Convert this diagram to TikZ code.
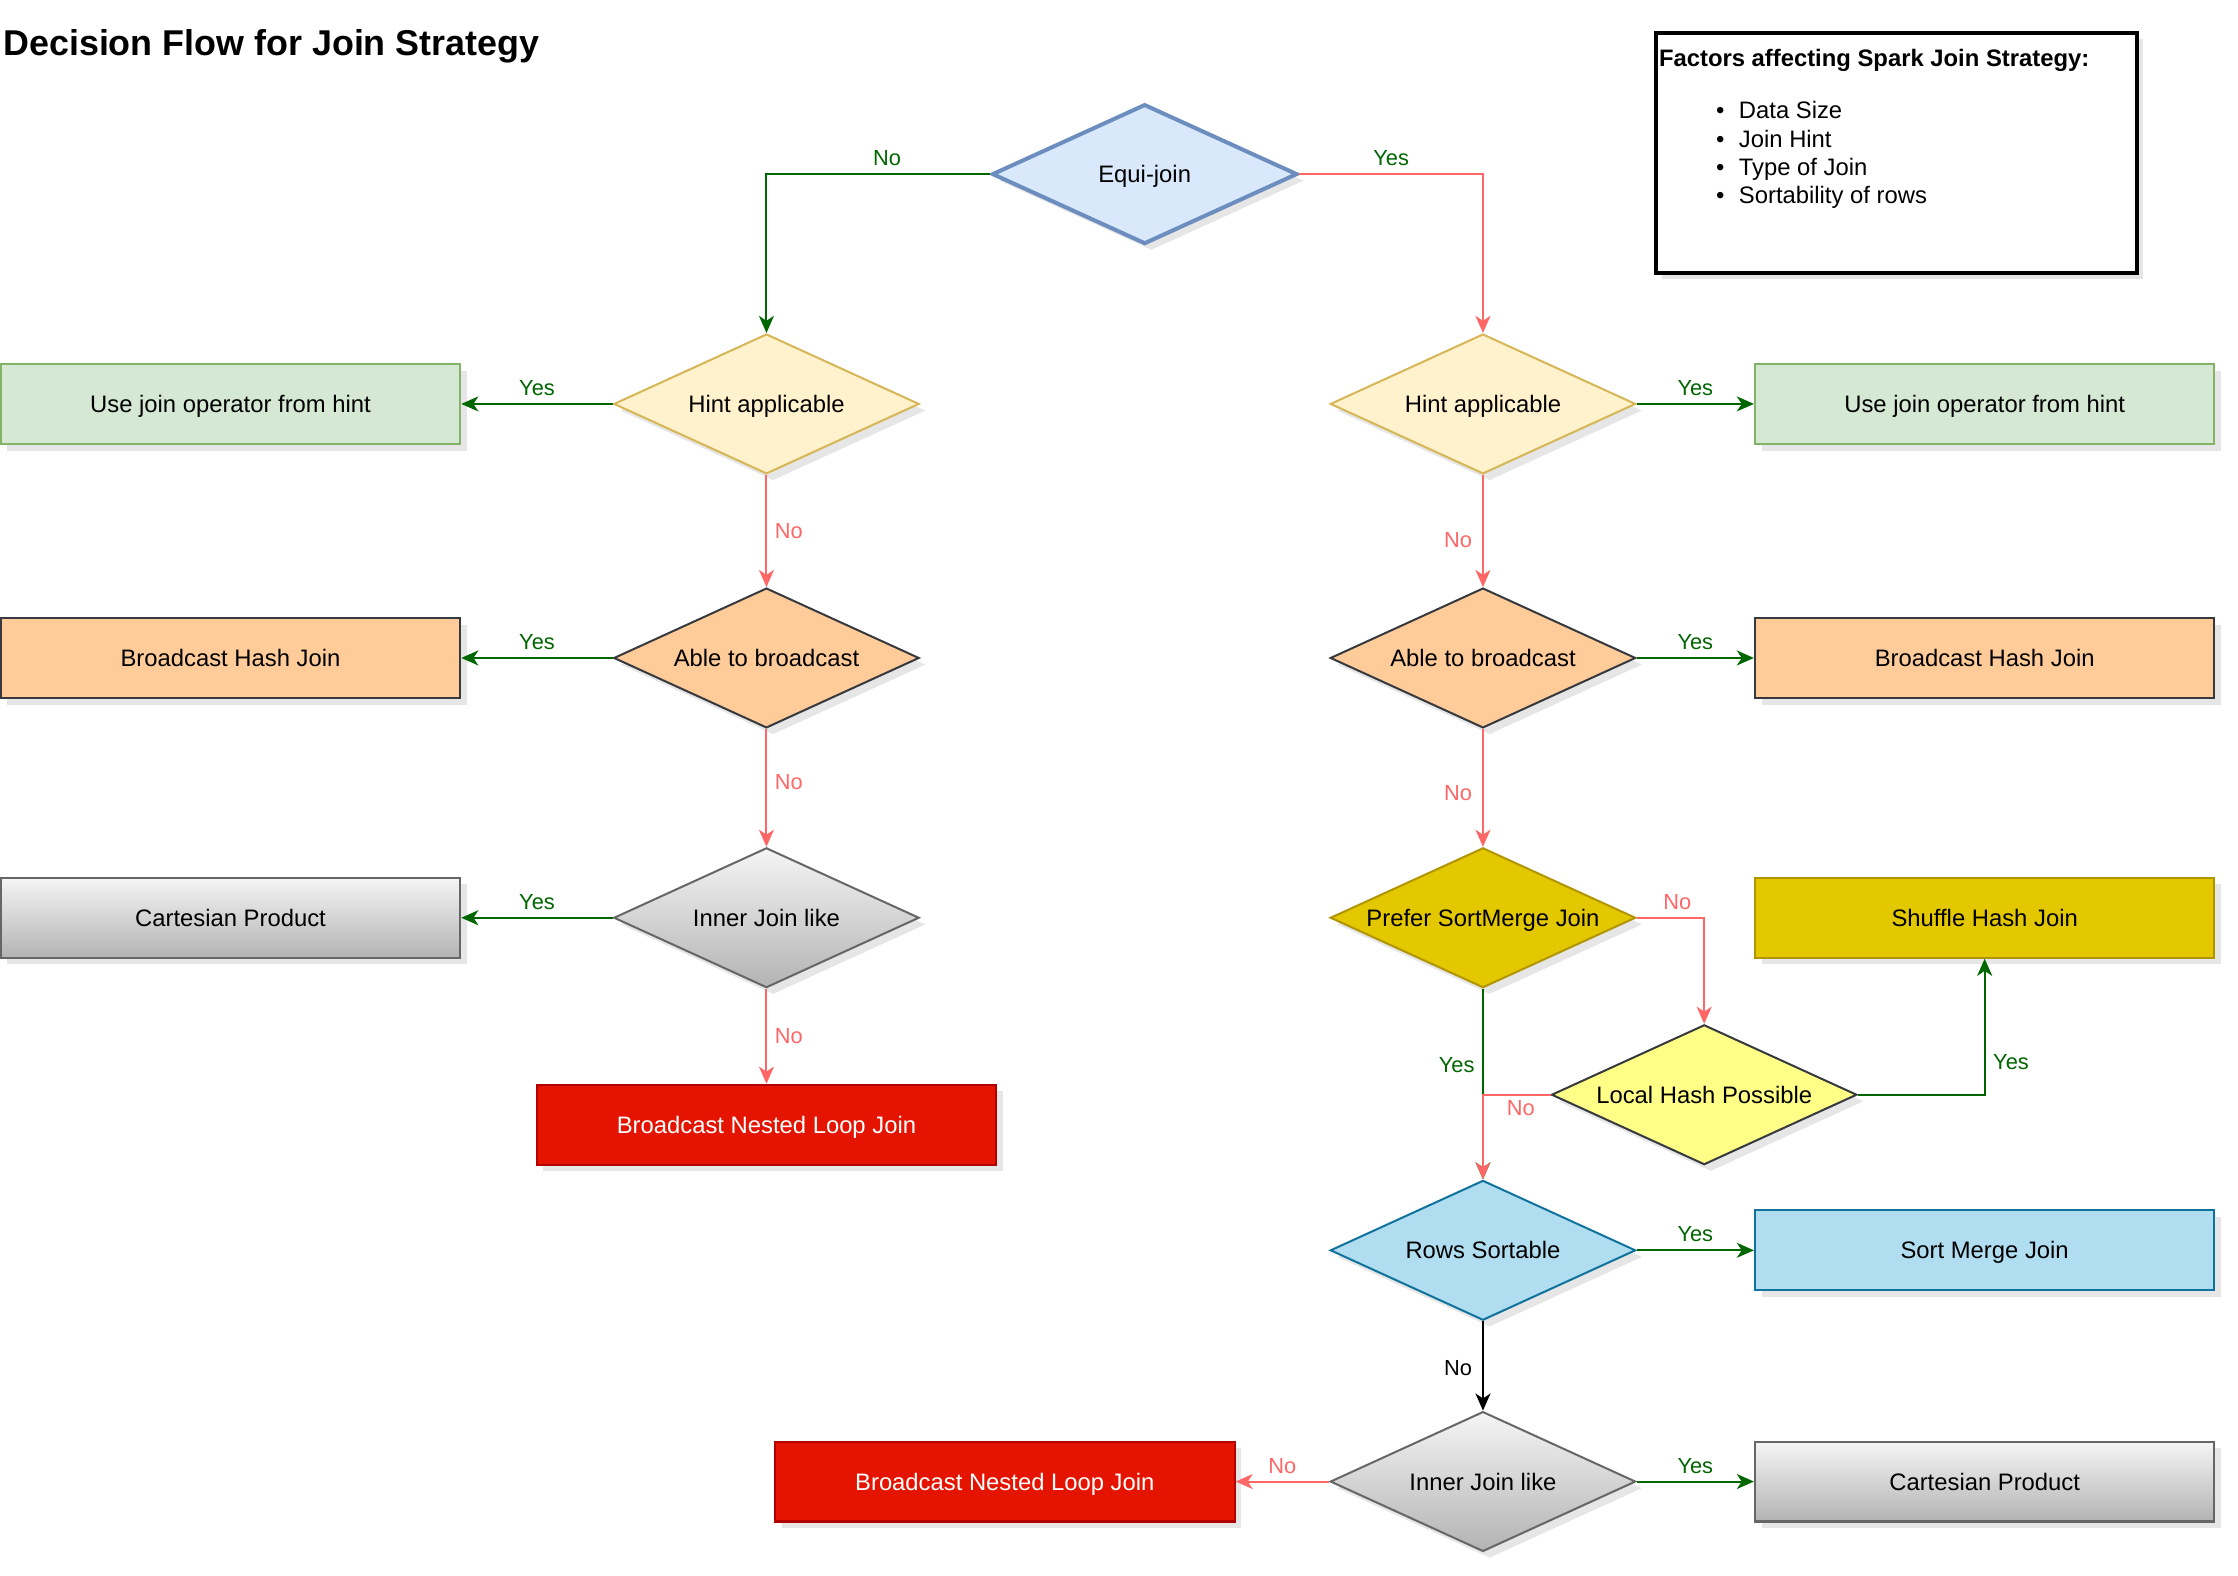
\documentclass[tikz,border=0pt]{standalone}
\usepackage{fontspec}
\setmainfont{Liberation Sans}
\usetikzlibrary{shapes.geometric,arrows.meta,shadows}
\definecolor{eqfill}{HTML}{DAE8FC}
\definecolor{eqdraw}{HTML}{6C8EBF}
\definecolor{hintfill}{HTML}{FFF2CC}
\definecolor{hintdraw}{HTML}{D6B656}
\definecolor{usefill}{HTML}{D5E8D4}
\definecolor{usedraw}{HTML}{82B366}
\definecolor{orangefill}{HTML}{FFCC99}
\definecolor{darkdraw}{HTML}{36393D}
\definecolor{graytop}{HTML}{F5F5F5}
\definecolor{graybot}{HTML}{B3B3B3}
\definecolor{graydraw}{HTML}{666666}
\definecolor{redfill}{HTML}{E51400}
\definecolor{reddraw}{HTML}{B20000}
\definecolor{goldfill}{HTML}{E3C800}
\definecolor{golddraw}{HTML}{B09500}
\definecolor{lemonfill}{HTML}{FFFF88}
\definecolor{bluefill}{HTML}{B1DDF0}
\definecolor{bluedraw}{HTML}{10739E}
\definecolor{edgegreen}{HTML}{006600}
\definecolor{edgered}{HTML}{FF6666}
\begin{document}
\begin{tikzpicture}[x={(0.02cm,0cm)}, y={(0cm,-0.02cm)},
        font=\fontsize{9.5}{11.3}\selectfont,
        decision/.style={diamond, draw, aspect=2.18, inner sep=0pt, text depth=0pt, minimum width=4.28cm, minimum height=1.96cm, line width=0.8pt, drop shadow={opacity=0.2}},
        outcome/.style={rectangle, draw, text depth=0pt, minimum width=6.44cm, minimum height=1.12cm, line width=0.8pt, drop shadow={opacity=0.2}},
        grayfill/.style={top color=graytop, bottom color=graybot, draw=graydraw},
        greenline/.style={draw=edgegreen, line width=0.8pt, -{Stealth[length=2.4mm, width=2.1mm, inset=0.7mm]}},
        redline/.style={greenline, draw=edgered},
        blackline/.style={greenline, draw=black},
        lbl/.style={fill=white, inner sep=1pt, text depth=0pt, font=\fontsize{8.7}{10}\selectfont},
        greenlbl/.style={lbl, text=edgegreen},
        redlbl/.style={lbl, text=edgered},
        blacklbl/.style={lbl, text=black}]
            \useasboundingbox (0,0) rectangle (1568,1104);
            \node[anchor=west, inner sep=0pt, text depth=0pt, font=\bfseries\fontsize{14.3}{17}\selectfont] (title) at (2,30) {Decision Flow for Join Strategy};
            \node[draw, fill=white, line width=1.6pt, minimum width=6.74cm, minimum height=3.36cm, drop shadow={opacity=0.2}] (factors) at (1328.5,107) {};
            \node[anchor=north west, inner sep=0pt, align=left] (factorlist) at (1162,34) {\textbf{Factors affecting Spark Join Strategy:}\\[9.7pt]
                \hspace*{0.8cm}\makebox[0.32cm][l]{\textbullet}Data Size\\
                \hspace*{0.8cm}\makebox[0.32cm][l]{\textbullet}Join Hint\\
                \hspace*{0.8cm}\makebox[0.32cm][l]{\textbullet}Type of Join\\
                \hspace*{0.8cm}\makebox[0.32cm][l]{\textbullet}Sortability of rows};

            \node[decision, fill=eqfill, draw=eqdraw, line width=1.6pt] (equi) at (802,122) {Equi-join};

            \node[decision, fill=hintfill, draw=hintdraw] (hintL) at (537,283) {Hint applicable};
            \node[decision, fill=orangefill, draw=darkdraw] (ableL) at (537,461) {Able to broadcast};
            \node[decision, grayfill] (innerL) at (537,643) {Inner Join like};
            \node[outcome, fill=usefill, draw=usedraw] (useL) at (161.5,283) {Use join operator from hint};
            \node[outcome, fill=orangefill, draw=darkdraw] (bhjL) at (161.5,461) {Broadcast Hash Join};
            \node[outcome, grayfill] (cartL) at (161.5,643) {Cartesian Product};
            \node[outcome, fill=redfill, draw=reddraw, text=white] (bnljL) at (537,788) {Broadcast Nested Loop Join};

            \node[decision, fill=hintfill, draw=hintdraw] (hintR) at (1039,283) {Hint applicable};
            \node[decision, fill=orangefill, draw=darkdraw] (ableR) at (1039,461) {Able to broadcast};
            \node[decision, fill=goldfill, draw=golddraw] (prefer) at (1039,643) {Prefer SortMerge Join};
            \node[decision, fill=lemonfill, draw=darkdraw] (local) at (1194,767) {Local Hash Possible};
            \node[decision, fill=bluefill, draw=bluedraw] (rows) at (1039,876) {Rows Sortable};
            \node[decision, grayfill] (innerR) at (1039,1038) {Inner Join like};
            \node[outcome, fill=usefill, draw=usedraw] (useR) at (1390.5,283) {Use join operator from hint};
            \node[outcome, fill=orangefill, draw=darkdraw] (bhjR) at (1390.5,461) {Broadcast Hash Join};
            \node[outcome, fill=goldfill, draw=golddraw] (shuffle) at (1390.5,643) {Shuffle Hash Join};
            \node[outcome, fill=bluefill, draw=bluedraw] (smj) at (1390.5,876) {Sort Merge Join};
            \node[outcome, grayfill] (cartR) at (1390.5,1038) {Cartesian Product};
            \node[outcome, fill=redfill, draw=reddraw, text=white] (bnljR) at (704,1038) {Broadcast Nested Loop Join};

            \draw[greenline] (equi.west) -| node[greenlbl, pos=0.23, above=2pt] {No} (hintL.north);
            \draw[redline] (equi.east) -| node[greenlbl, pos=0.25, above=2pt] {Yes} (hintR.north);

            \draw[greenline] (hintL.west) -- node[greenlbl, midway, above=2pt] {Yes} (useL.east);
            \draw[redline] (hintL.south) -- node[redlbl, midway, right=2pt] {No} (ableL.north);
            \draw[greenline] (ableL.west) -- node[greenlbl, midway, above=2pt] {Yes} (bhjL.east);
            \draw[redline] (ableL.south) -- node[redlbl, pos=0.45, right=2pt] {No} (innerL.north);
            \draw[greenline] (innerL.west) -- node[greenlbl, midway, above=2pt] {Yes} (cartL.east);
            \draw[redline] (innerL.south) -- node[redlbl, midway, right=2pt] {No} (bnljL.north);

            \draw[greenline] (hintR.east) -- node[greenlbl, midway, above=2pt] {Yes} (useR.west);
            \draw[redline] (hintR.south) -- node[redlbl, pos=0.58, left=3pt] {No} (ableR.north);
            \draw[greenline] (ableR.east) -- node[greenlbl, midway, above=2pt] {Yes} (bhjR.west);
            \draw[redline] (ableR.south) -- node[redlbl, pos=0.54, left=3pt] {No} (prefer.north);
            \draw[redline] (prefer.east) -| node[redlbl, pos=0.3, above=2pt] {No} (local.north);
            \draw[greenline] (prefer.south) -- node[greenlbl, pos=0.4, left=2pt] {Yes} (rows.north);
            \draw[redline] (local.west) -| node[redlbl, pos=0.22, below=1pt] {No} (rows.north);
            \draw[greenline] (local.east) -| node[greenlbl, pos=0.62, right=2pt] {Yes} (shuffle.south);
            \draw[greenline] (rows.east) -- node[greenlbl, midway, above=2pt] {Yes} (smj.west);
            \draw[blackline] (rows.south) -- node[blacklbl, pos=0.52, left=3pt] {No} (innerR.north);
            \draw[greenline] (innerR.east) -- node[greenlbl, midway, above=2pt] {Yes} (cartR.west);
            \draw[redline] (innerR.west) -- node[redlbl, midway, above=2pt] {No} (bnljR.east);
        \end{tikzpicture}
\end{document}
